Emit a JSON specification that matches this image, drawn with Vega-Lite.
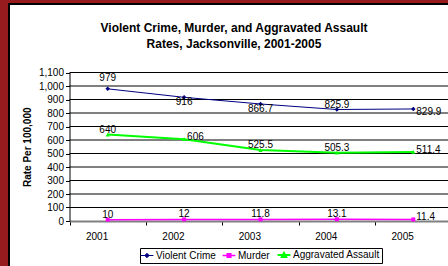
{
  "$schema": "https://vega.github.io/schema/vega-lite/v6.json",
  "width": 440,
  "height": 263,
  "autosize": {"type": "none"},
  "padding": {"left": 9, "top": 4, "right": 0, "bottom": 0},
  "background": "#951b1e",
  "config": {
    "font": "Liberation Sans",
    "view": {"fill": "white", "stroke": "black", "strokeWidth": 2},
    "axis": {"labelOverlap": false},
    "axisY": {"labelOverlap": false, "tickCount": 12}
  },
  "title": {
    "text": ["Violent Crime, Murder, and Aggravated Assault", "Rates, Jacksonville, 2001-2005"],
    "fontSize": 12,
    "fontWeight": "bold",
    "color": "black",
    "anchor": "middle",
    "frame": "group",
    "offset": -47,
    "dx": 5,
    "lineHeight": 16.5
  },
  "datasets": {
    "rates": [
      {"year": "2001", "series": "Violent Crime", "rate": 979},
      {"year": "2002", "series": "Violent Crime", "rate": 916},
      {"year": "2003", "series": "Violent Crime", "rate": 866.7},
      {"year": "2004", "series": "Violent Crime", "rate": 825.9},
      {"year": "2005", "series": "Violent Crime", "rate": 829.9},
      {"year": "2001", "series": "Murder", "rate": 10},
      {"year": "2002", "series": "Murder", "rate": 12},
      {"year": "2003", "series": "Murder", "rate": 11.8},
      {"year": "2004", "series": "Murder", "rate": 13.1},
      {"year": "2005", "series": "Murder", "rate": 11.4},
      {"year": "2001", "series": "Aggravated Assault", "rate": 640},
      {"year": "2002", "series": "Aggravated Assault", "rate": 606},
      {"year": "2003", "series": "Aggravated Assault", "rate": 525.5},
      {"year": "2004", "series": "Aggravated Assault", "rate": 505.3},
      {"year": "2005", "series": "Aggravated Assault", "rate": 511.4}
    ],
    "grid": [
      {"v": 100}, {"v": 200}, {"v": 300}, {"v": 400}, {"v": 500}, {"v": 600},
      {"v": 700}, {"v": 800}, {"v": 900}, {"v": 1000}, {"v": 1100}
    ]
  },
  "data": {"name": "rates"},
  "layer": [
    {
      "data": {"name": "grid"},
      "mark": {"type": "rule", "color": "black", "strokeWidth": 1},
      "encoding": {
        "y": {
          "field": "v",
          "type": "quantitative",
          "scale": {"domain": [0, 1100], "range": [217, 68.5], "nice": false, "zero": true},
          "axis": {
            "orient": "left",
            "offset": -60.5,
            "title": "Rate Per 100,000",
            "titleFontSize": 10,
            "titleFontWeight": "bold",
            "titleColor": "black",
            "titlePadding": 6,
            "values": [0, 100, 200, 300, 400, 500, 600, 700, 800, 900, 1000, 1100],
            "tickCount": 12,
            "format": ",d",
            "labelOverlap": false,
            "labelBound": false,
            "grid": false,
            "domainColor": "black",
            "tickColor": "black",
            "tickSize": 4,
            "labelFontSize": 10,
            "labelColor": "black",
            "labelPadding": 2
          }
        },
        "x": {"datum": "2001", "type": "ordinal", "bandPosition": 0},
        "x2": {"datum": "2005", "bandPosition": 1}
      }
    },
    {
      "mark": {"type": "line"},
      "encoding": {
        "x": {
          "field": "year",
          "type": "ordinal",
          "scale": {"type": "band", "domain": ["2001", "2002", "2003", "2004", "2005"], "range": [60.5, 442.5], "paddingInner": 0, "paddingOuter": 0},
          "axis": {
            "orient": "bottom",
            "offset": -46,
            "title": null,
            "tickBand": "extent",
            "domainColor": "#808080",
            "domainWidth": 2,
            "tickColor": "black",
            "tickSize": 4,
            "labelFontSize": 10,
            "labelColor": "black",
            "labelPadding": 11,
            "labelAngle": 0,
            "grid": false
          }
        },
        "y": {
          "field": "rate",
          "type": "quantitative",
          "axis": {
            "orient": "left",
            "offset": -60.5,
            "title": "Rate Per 100,000",
            "titleFontSize": 10,
            "titleFontWeight": "bold",
            "titleColor": "black",
            "titlePadding": 6,
            "values": [0, 100, 200, 300, 400, 500, 600, 700, 800, 900, 1000, 1100],
            "tickCount": 12,
            "format": ",d",
            "labelOverlap": false,
            "labelBound": false,
            "grid": false,
            "domainColor": "black",
            "tickColor": "black",
            "tickSize": 4,
            "labelFontSize": 10,
            "labelColor": "black",
            "labelPadding": 2
          }
        },
        "color": {
          "field": "series",
          "type": "nominal",
          "scale": {"domain": ["Violent Crime", "Murder", "Aggravated Assault"], "range": ["#000080", "#ff00ff", "#00ff00"]},
          "legend": {
            "orient": "none",
            "legendX": 131,
            "legendY": 244,
            "direction": "horizontal",
            "title": null,
            "strokeColor": "black",
            "fillColor": "white",
            "padding": 2,
            "labelFontSize": 10,
            "labelColor": "black",
            "labelOffset": 4,
            "symbolSize": 64,
            "symbolType": "stroke",
            "columnPadding": 3,
            "encode": {
              "symbols": {
                "update": {
                  "shape": {"signal": "datum.value === 'Violent Crime' ? 'M-1.6,0H1.6M0,-0.55L0.55,0L0,0.55L-0.55,0Z' : datum.value === 'Murder' ? 'M-1.6,0H1.6M-0.45,-0.45H0.45V0.45H-0.45Z' : 'M-1.6,0H1.6M0,-0.55L0.55,0.45H-0.55Z'"},
                  "fill": {"scale": "color", "field": "value"},
                  "stroke": {"scale": "color", "field": "value"},
                  "strokeWidth": {"value": 1}
                }
              }
            }
          }
        },
        "strokeWidth": {
          "field": "series",
          "type": "nominal",
          "scale": {"domain": ["Violent Crime", "Murder", "Aggravated Assault"], "range": [1, 2, 1]},
          "legend": null
        }
      }
    },
    {
      "transform": [{"filter": "datum.series === 'Violent Crime'"}],
      "mark": {"type": "point", "filled": true, "opacity": 1, "size": 20, "shape": "diamond"},
      "encoding": {
        "x": {"field": "year", "type": "ordinal"},
        "y": {"field": "rate", "type": "quantitative"},
        "color": {"field": "series", "type": "nominal"}
      }
    },
    {
      "transform": [{"filter": "datum.series === 'Murder'"}],
      "mark": {"type": "point", "filled": true, "opacity": 1, "size": 16, "shape": "square"},
      "encoding": {
        "x": {"field": "year", "type": "ordinal"},
        "y": {"field": "rate", "type": "quantitative"},
        "color": {"field": "series", "type": "nominal"}
      }
    },
    {
      "transform": [{"filter": "datum.series === 'Aggravated Assault'"}],
      "mark": {"type": "point", "filled": true, "opacity": 1, "size": 18, "shape": "triangle-up"},
      "encoding": {
        "x": {"field": "year", "type": "ordinal"},
        "y": {"field": "rate", "type": "quantitative"},
        "color": {"field": "series", "type": "nominal"}
      }
    },
    {
      "transform": [{"filter": "(datum.series === 'Violent Crime' && datum.year === '2004') || (datum.series === 'Aggravated Assault' && datum.year !== '2002' && datum.year !== '2005') || (datum.series === 'Murder' && datum.year !== '2005')"}],
      "mark": {"type": "text", "fontSize": 10, "color": "black", "baseline": "middle", "dy": -5},
      "encoding": {
        "x": {"field": "year", "type": "ordinal"},
        "y": {"field": "rate", "type": "quantitative"},
        "text": {"field": "rate", "type": "nominal"}
      }
    },
    {
      "transform": [{"filter": "datum.series === 'Violent Crime' && datum.year === '2001'"}],
      "mark": {"type": "text", "fontSize": 10, "color": "black", "baseline": "middle", "dy": -11},
      "encoding": {
        "x": {"field": "year", "type": "ordinal"},
        "y": {"field": "rate", "type": "quantitative"},
        "text": {"field": "rate", "type": "nominal"}
      }
    },
    {
      "transform": [{"filter": "datum.series === 'Violent Crime' && (datum.year === '2002' || datum.year === '2003')"}],
      "mark": {"type": "text", "fontSize": 10, "color": "black", "baseline": "middle", "dy": 5},
      "encoding": {
        "x": {"field": "year", "type": "ordinal"},
        "y": {"field": "rate", "type": "quantitative"},
        "text": {"field": "rate", "type": "nominal"}
      }
    },
    {
      "transform": [{"filter": "(datum.year === '2005' && datum.series !== 'Violent Crime') || (datum.series === 'Aggravated Assault' && datum.year === '2002')"}],
      "mark": {"type": "text", "fontSize": 10, "color": "black", "baseline": "middle", "align": "left", "dx": 3, "dy": -2},
      "encoding": {
        "x": {"field": "year", "type": "ordinal"},
        "y": {"field": "rate", "type": "quantitative"},
        "text": {"field": "rate", "type": "nominal"}
      }
    },
    {
      "transform": [{"filter": "datum.series === 'Violent Crime' && datum.year === '2005'"}],
      "mark": {"type": "text", "fontSize": 10, "color": "black", "baseline": "middle", "align": "left", "dx": 3, "dy": 3},
      "encoding": {
        "x": {"field": "year", "type": "ordinal"},
        "y": {"field": "rate", "type": "quantitative"},
        "text": {"field": "rate", "type": "nominal"}
      }
    }
  ]
}
